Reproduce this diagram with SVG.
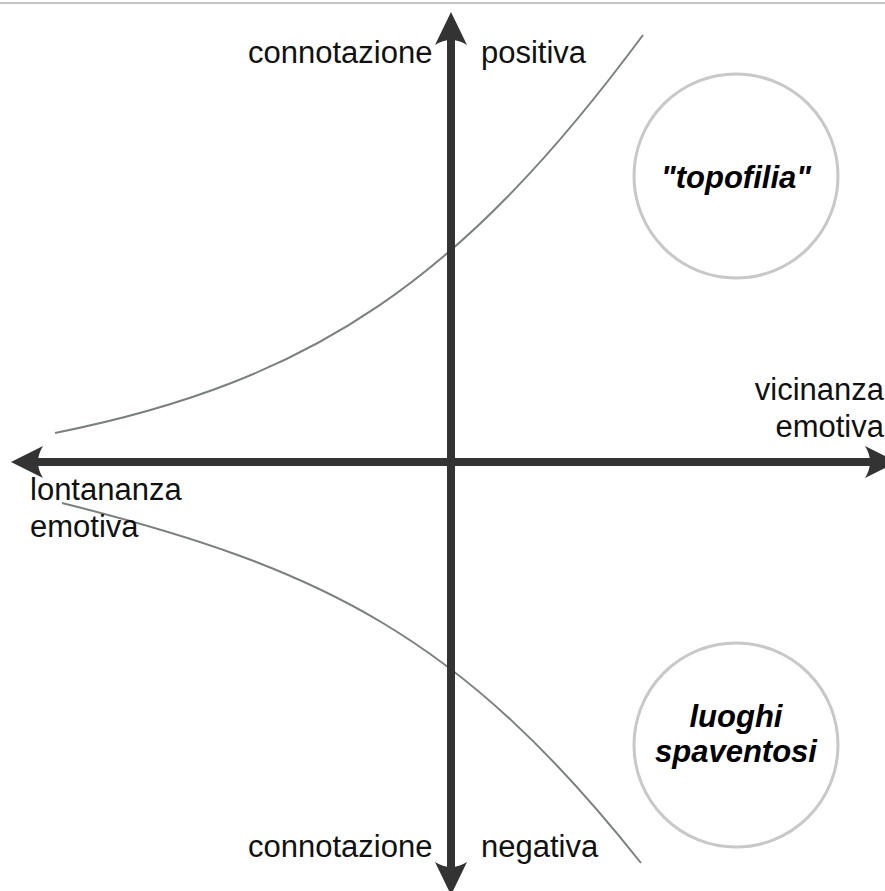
<svg xmlns="http://www.w3.org/2000/svg" width="885" height="891" viewBox="0 0 885 891">
<style>
.lbl{font-family:"Liberation Sans",Arial,sans-serif;font-size:31px;fill:#111}
.bi{font-family:"Liberation Sans",Arial,sans-serif;font-size:31px;font-weight:bold;font-style:italic;fill:#000;text-anchor:middle}
.axis{stroke:#333;stroke-width:8;fill:none}
.head{fill:#333}
.curve{stroke:#7b807e;stroke-width:2;fill:none}
.circ{fill:#fff;stroke:#c8c8c8;stroke-width:3}
</style>
<rect width="885" height="891" fill="#fff"/>
<line x1="0" y1="3" x2="885" y2="3" stroke="#c4c4c4" stroke-width="2"/>
<g id="connectors">
<path class="curve" d="M55,433 C315,381 463,278 643,35"/>
<path class="curve" d="M62,503 C322,568 461,636 641,863"/>
<line class="axis" x1="451" y1="36" x2="451" y2="868"/>
<line class="axis" x1="36" y1="462" x2="870" y2="462"/>
<path class="head" d="M451,12 L467,45 Q451,35 435,45 Z"/>
<path class="head" d="M451,895 L467,862 Q451,872 435,862 Z"/>
<path class="head" d="M11,462 L43,446 Q33,462 43,478 Z"/>
<path class="head" d="M897,462 L865,446 Q875,462 865,478 Z"/>
</g>
<g id="axis-labels">
<text class="lbl" x="248" y="63">connotazione</text>
<text class="lbl" x="481" y="63">positiva</text>
<text class="lbl" x="248" y="857">connotazione</text>
<text class="lbl" x="481" y="857">negativa</text>
<text class="lbl" x="884" y="400" text-anchor="end">vicinanza</text>
<text class="lbl" x="884" y="437" text-anchor="end">emotiva</text>
<text class="lbl" x="30" y="500">lontananza</text>
<text class="lbl" x="30" y="537">emotiva</text>
</g>
<g id="topofilia">
<circle class="circ" cx="736" cy="176" r="102"/>
<text class="bi" x="736" y="188">"topofilia"</text>
</g>
<g id="luoghi-spaventosi">
<circle class="circ" cx="736" cy="745" r="102"/>
<text class="bi" x="736" y="727">luoghi</text>
<text class="bi" x="736" y="762">spaventosi</text>
</g>
</svg>
